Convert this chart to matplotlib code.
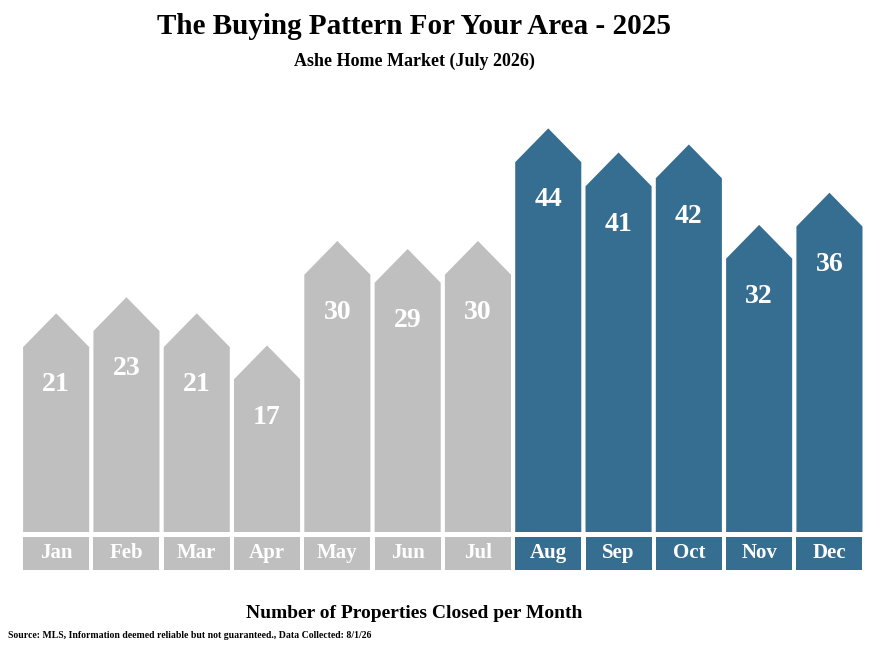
import matplotlib
matplotlib.use("Agg")
import matplotlib.pyplot as plt
from matplotlib.patches import Polygon, Rectangle

months = ["Jan","Feb","Mar","Apr","May","Jun","Jul","Aug","Sep","Oct","Nov","Dec"]
values = [21,23,21,17,30,29,30,44,41,42,32,36]
gray, blue = "#bfbfbf", "#366e91"
colors = [gray]*7 + [blue]*5

plt.rcParams['font.family'] = ['Liberation Serif', 'DejaVu Serif']
fig = plt.figure(figsize=(8.87, 6.46), dpi=100)
W, H = 887, 646
ppu = 8.04
ax = fig.add_axes([21/W, 114/H, 843.6/W, 52*ppu/H])
ax.set_xlim(-0.5, 11.5); ax.set_ylim(0, 52)
ax.axis('off')
hw = 0.47
for i, (m, v, c) in enumerate(zip(months, values, colors)):
    top = v + 2
    ax.add_patch(Polygon([(i-hw, 0), (i+hw, 0), (i+hw, top), (i, top+4.2), (i-hw, top)],
                         closed=True, color=c, lw=0))
    ax.text(i, v-2.7, str(v), ha='center', va='center', color='white',
            fontsize=20, fontweight='bold')
    ax.add_patch(Rectangle((i-hw, -4.73), 2*hw, 4.11, color=c, lw=0, clip_on=False))
    ax.text(i, -2.65, m, ha='center', va='center', color='white',
            fontsize=15, fontweight='bold', clip_on=False)

fig.text(414/W, 1-27/H, "The Buying Pattern For Your Area - 2025", ha='center', va='center',
         fontsize=21, fontweight='bold')
fig.text(414/W, 1-61/H, "Ashe Home Market (July 2026)", ha='center', va='center',
         fontsize=13, fontweight='bold')
fig.text(414/W, 1-613/H, "Number of Properties Closed per Month", ha='center', va='center',
         fontsize=14, fontweight='bold')
fig.text(8/W, 1-635/H, "Source: MLS, Information deemed reliable but not guaranteed., Data Collected: 8/1/26",
         ha='left', va='center', fontsize=7, fontweight='bold')
fig.savefig("out.png", dpi=100, facecolor='white')
